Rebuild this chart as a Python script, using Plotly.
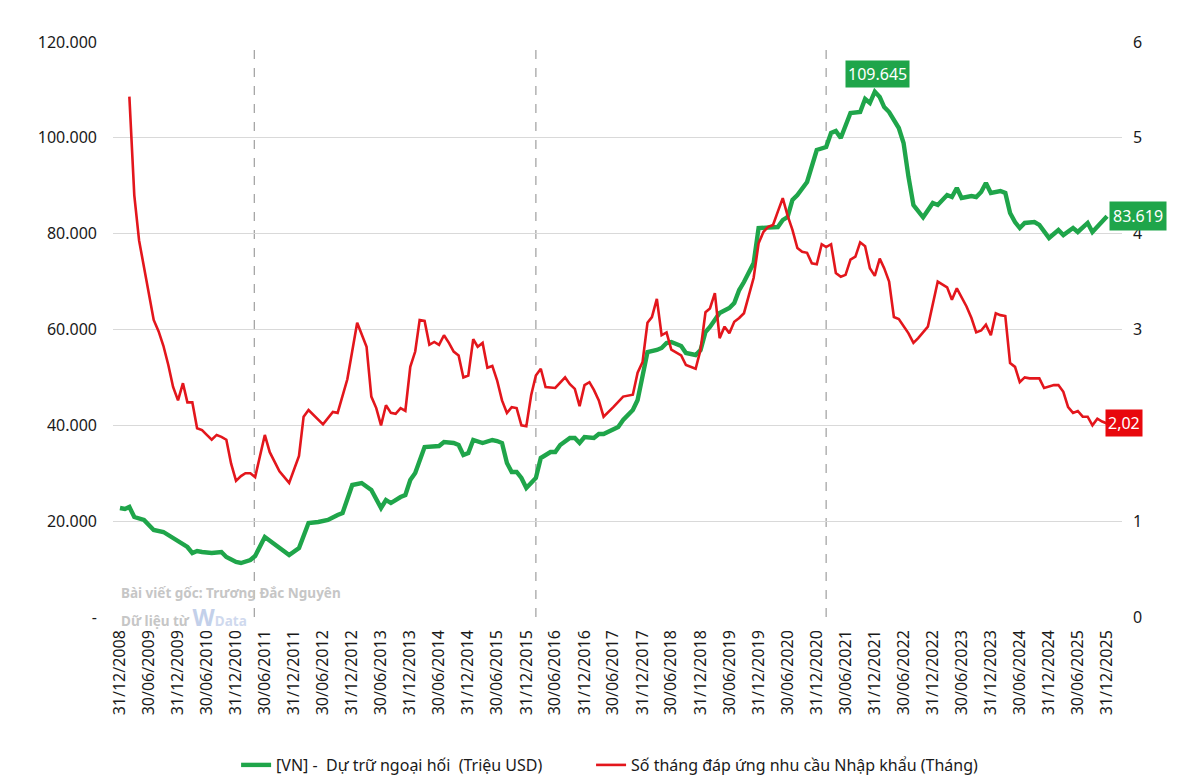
import pandas as pd
import plotly.graph_objects as go

# ---------------- data ----------------
GREEN_NAME = "[VN] -  Dự trữ ngoại hối  (Triệu USD)"
RED_NAME = "Số tháng đáp ứng nhu cầu Nhập khẩu (Tháng)"

GREEN_MONTHS = [
    "2008-12", "2009-01", "2009-02", "2009-03", "2009-05", "2009-07", "2009-09", "2009-11",
    "2010-01", "2010-02", "2010-03", "2010-04", "2010-05", "2010-07", "2010-09", "2010-10",
    "2010-12", "2011-01", "2011-03", "2011-04", "2011-06", "2011-08", "2011-11", "2012-01",
    "2012-03", "2012-05", "2012-07", "2012-09", "2012-10", "2012-12", "2013-02", "2013-04",
    "2013-06", "2013-07", "2013-08", "2013-10", "2013-11", "2013-12", "2014-01", "2014-03",
    "2014-04", "2014-06", "2014-07", "2014-09", "2014-10", "2014-11", "2014-12", "2015-01",
    "2015-03", "2015-05", "2015-06", "2015-07", "2015-08", "2015-09", "2015-10", "2015-11",
    "2015-12", "2016-02", "2016-03", "2016-05", "2016-06", "2016-07", "2016-09", "2016-10",
    "2016-11", "2016-12", "2017-02", "2017-03", "2017-04", "2017-06", "2017-07", "2017-08",
    "2017-10", "2017-11", "2017-12", "2018-01", "2018-03", "2018-04", "2018-05", "2018-06",
    "2018-08", "2018-09", "2018-11", "2018-12", "2019-01", "2019-02", "2019-04", "2019-06",
    "2019-07", "2019-08", "2019-09", "2019-11", "2019-12", "2020-01", "2020-03", "2020-04",
    "2020-05", "2020-06", "2020-07", "2020-08", "2020-10", "2020-11", "2020-12", "2021-02",
    "2021-03", "2021-04", "2021-05", "2021-07", "2021-09", "2021-10", "2021-11", "2021-12",
    "2022-01", "2022-02", "2022-03", "2022-05", "2022-06", "2022-07", "2022-08", "2022-10",
    "2022-12", "2023-01", "2023-03", "2023-04", "2023-05", "2023-06", "2023-08", "2023-09",
    "2023-10", "2023-11", "2023-12", "2024-02", "2024-03", "2024-04", "2024-05", "2024-06",
    "2024-07", "2024-09", "2024-10", "2024-12", "2025-02", "2025-03", "2025-05", "2025-06",
    "2025-08", "2025-09", "2025-12",
]
GREEN_VALUES = [
    22750, 22540, 22960, 20870, 20240, 18160, 17740, 16490,
    15030, 14610, 13360, 13770, 13570, 13360, 13570, 12520,
    11480, 11270, 11900, 12730, 16700, 15230, 12940, 14400,
    19620, 19830, 20240, 21290, 21700, 27550, 27960, 26500,
    22750, 24420, 23790, 25040, 25460, 28590, 30050, 35480,
    35480, 35690, 36520, 36310, 35900, 33810, 34230, 36940,
    36310, 36940, 36730, 36310, 32140, 30260, 30260, 29010,
    26920, 29010, 33180, 34430, 34430, 35900, 37360, 37360,
    36310, 37560, 37360, 38190, 38190, 39030, 39650, 41110,
    43200, 45290, 50090, 55300, 55720, 56140, 57180, 57390,
    56560, 55100, 54680, 55720, 59480, 60520, 63440, 64490,
    65530, 68240, 69910, 73880, 81180, 81180, 81390, 81390,
    82850, 83480, 87030, 88070, 90780, 94330, 97460, 98090,
    101010, 101430, 99970, 105180, 105390, 108100, 107270, 109645,
    108520, 106430, 105390, 102050, 98920, 91830, 85980, 83420,
    86400, 85980, 88070, 87650, 89530, 87440, 87860, 87650,
    88700, 90570, 88490, 88900, 88490, 84310, 82430, 81180,
    82230, 82430, 81810, 79090, 80760, 79720, 81180, 80350,
    82230, 80350, 83619,
]

RED_MONTHS = [
    "2009-02", "2009-03", "2009-04", "2009-05", "2009-06", "2009-07", "2009-08", "2009-09",
    "2009-10", "2009-11", "2009-12", "2010-01", "2010-02", "2010-03", "2010-04", "2010-05",
    "2010-06", "2010-07", "2010-08", "2010-09", "2010-10", "2010-11", "2010-12", "2011-01",
    "2011-02", "2011-03", "2011-04", "2011-06", "2011-07", "2011-09", "2011-11", "2012-01",
    "2012-02", "2012-03", "2012-06", "2012-08", "2012-09", "2012-11", "2013-01", "2013-03",
    "2013-04", "2013-05", "2013-06", "2013-07", "2013-08", "2013-09", "2013-10", "2013-11",
    "2013-12", "2014-01", "2014-02", "2014-03", "2014-04", "2014-05", "2014-06", "2014-07",
    "2014-08", "2014-09", "2014-10", "2014-11", "2014-12", "2015-01", "2015-02", "2015-03",
    "2015-04", "2015-05", "2015-06", "2015-07", "2015-08", "2015-09", "2015-10", "2015-11",
    "2015-12", "2016-01", "2016-02", "2016-03", "2016-04", "2016-06", "2016-08", "2016-09",
    "2016-10", "2016-11", "2016-12", "2017-01", "2017-02", "2017-03", "2017-04", "2017-05",
    "2017-06", "2017-08", "2017-10", "2017-11", "2017-12", "2018-01", "2018-02", "2018-03",
    "2018-04", "2018-05", "2018-06", "2018-08", "2018-09", "2018-11", "2018-12", "2019-01",
    "2019-02", "2019-03", "2019-04", "2019-05", "2019-06", "2019-07", "2019-08", "2019-09",
    "2019-10", "2019-11", "2019-12", "2020-01", "2020-02", "2020-03", "2020-04", "2020-05",
    "2020-06", "2020-07", "2020-08", "2020-09", "2020-10", "2020-11", "2020-12", "2021-01",
    "2021-02", "2021-03", "2021-04", "2021-05", "2021-06", "2021-07", "2021-08", "2021-09",
    "2021-10", "2021-11", "2021-12", "2022-01", "2022-02", "2022-03", "2022-04", "2022-05",
    "2022-07", "2022-08", "2022-09", "2022-11", "2023-01", "2023-02", "2023-03", "2023-04",
    "2023-05", "2023-07", "2023-08", "2023-09", "2023-10", "2023-11", "2023-12", "2024-01",
    "2024-02", "2024-03", "2024-04", "2024-05", "2024-06", "2024-07", "2024-08", "2024-10",
    "2024-11", "2025-01", "2025-02", "2025-03", "2025-04", "2025-05", "2025-06", "2025-07",
    "2025-08", "2025-09", "2025-10", "2025-11", "2025-12",
]
RED_VALUES = [
    5.43, 4.40, 3.93, 3.65, 3.35, 3.10, 2.98, 2.83,
    2.63, 2.40, 2.26, 2.44, 2.24, 2.24, 1.97, 1.95,
    1.90, 1.85, 1.90, 1.88, 1.85, 1.60, 1.42, 1.47,
    1.50, 1.50, 1.46, 1.90, 1.72, 1.52, 1.40, 1.68,
    2.09, 2.16, 2.01, 2.14, 2.13, 2.48, 3.07, 2.82,
    2.30, 2.18, 2.00, 2.21, 2.13, 2.12, 2.18, 2.15,
    2.61, 2.77, 3.10, 3.09, 2.84, 2.87, 2.84, 2.94,
    2.86, 2.77, 2.73, 2.50, 2.52, 2.90, 2.82, 2.86,
    2.60, 2.62, 2.47, 2.26, 2.13, 2.19, 2.18, 2.00,
    1.99, 2.32, 2.52, 2.59, 2.40, 2.39, 2.50, 2.43,
    2.38, 2.20, 2.42, 2.45, 2.37, 2.26, 2.09, 2.14,
    2.19, 2.30, 2.32, 2.55, 2.66, 3.07, 3.13, 3.32,
    2.94, 2.97, 2.79, 2.73, 2.63, 2.59, 2.79, 3.18,
    3.22, 3.38, 2.91, 3.03, 2.96, 3.08, 3.12, 3.17,
    3.36, 3.54, 3.90, 4.02, 4.07, 4.09, 4.23, 4.37,
    4.19, 4.04, 3.85, 3.81, 3.80, 3.69, 3.68, 3.89,
    3.86, 3.89, 3.59, 3.55, 3.57, 3.73, 3.76, 3.91,
    3.87, 3.64, 3.56, 3.74, 3.64, 3.50, 3.13, 3.11,
    2.96, 2.86, 2.91, 3.03, 3.50, 3.47, 3.44, 3.31,
    3.43, 3.24, 3.12, 2.97, 2.99, 3.05, 2.94, 3.17,
    3.15, 3.14, 2.65, 2.61, 2.45, 2.50, 2.49, 2.49,
    2.39, 2.42, 2.42, 2.35, 2.19, 2.13, 2.15, 2.09,
    2.09, 2.00, 2.07, 2.04, 2.02,
]

TICK_LABELS = [
    "31/12/2008", "30/06/2009", "31/12/2009", "30/06/2010", "31/12/2010", "30/06/2011",
    "31/12/2011", "30/06/2012", "31/12/2012", "30/06/2013", "31/12/2013", "30/06/2014",
    "31/12/2014", "30/06/2015", "31/12/2015", "30/06/2016", "31/12/2016", "30/06/2017",
    "31/12/2017", "30/06/2018", "31/12/2018", "30/06/2019", "31/12/2019", "30/06/2020",
    "31/12/2020", "30/06/2021", "31/12/2021", "30/06/2022", "31/12/2022", "30/06/2023",
    "31/12/2023", "30/06/2024", "31/12/2024", "30/06/2025", "31/12/2025",
]
LEFT_TICKS = [0, 20000, 40000, 60000, 80000, 100000, 120000]
LEFT_TICK_TEXT = ["-", "20.000", "40.000", "60.000", "80.000", "100.000", "120.000"]
RIGHT_TICKS = [0, 1, 2, 3, 4, 5, 6]
EVENT_DATES = ["2011-04-25", "2016-02-29", "2021-02-28"]

PEAK_LABEL = "109.645"
GREEN_END_LABEL = "83.619"
RED_END_LABEL = "2,02"

# ---------------- styling ----------------
GREEN = "#1fa54a"
RED = "#e3161c"
FONT = "Noto Sans"


def month_end(months):
    return list(pd.to_datetime(months) + pd.offsets.MonthEnd(0))


gx = month_end(GREEN_MONTHS)
rx = month_end(RED_MONTHS)
tickvals = list(pd.to_datetime(TICK_LABELS, format="%d/%m/%Y"))

fig = go.Figure()
fig.add_trace(go.Scatter(x=gx, y=GREEN_VALUES, mode="lines", name=GREEN_NAME,
                         line=dict(color=GREEN, width=4.4), yaxis="y", legend="legend"))
fig.add_trace(go.Scatter(x=rx, y=RED_VALUES, mode="lines", name=RED_NAME,
                         line=dict(color=RED, width=2.6), yaxis="y2", legend="legend2"))

for d in EVENT_DATES:
    fig.add_shape(type="line", xref="x", yref="paper", x0=d, x1=d, y0=0, y1=0.995,
                  line=dict(color="#a6a6a6", width=1.3, dash="dash"), layer="below")

peak_i = GREEN_VALUES.index(max(GREEN_VALUES))
fig.add_annotation(x=gx[peak_i], y=GREEN_VALUES[peak_i], yref="y", text=PEAK_LABEL,
                   showarrow=False, yanchor="bottom", yshift=4, xshift=3, bgcolor=GREEN,
                   borderpad=2, font=dict(family=FONT, size=16, color="white"))
fig.add_annotation(x=gx[-1], y=GREEN_VALUES[-1], yref="y", text=GREEN_END_LABEL,
                   showarrow=False, xanchor="left", xshift=2, bgcolor=GREEN,
                   borderpad=3, font=dict(family=FONT, size=16, color="white"))
fig.add_annotation(x=rx[-1], y=RED_VALUES[-1], yref="y2", text=RED_END_LABEL,
                   showarrow=False, xanchor="left", xshift=-2, bgcolor="#e8080d",
                   borderpad=2, font=dict(family=FONT, size=16, color="white"))

# watermark
fig.add_annotation(xref="paper", yref="paper", x=0.006, y=0.042, xanchor="left",
                   yanchor="middle", showarrow=False,
                   text="<b>Bài viết gốc: Trương Đắc Nguyên</b>",
                   font=dict(family=FONT, size=13.5, color="#c6c6c6"))
fig.add_annotation(xref="paper", yref="paper", x=0.006, y=0.0, xanchor="left",
                   yanchor="middle", showarrow=False,
                   text="<b>Dữ liệu từ </b><span style='font-size:23px;color:#c3d0ea'><b>W</b></span><span style='color:#cfd9ee'><b>Data</b></span>",
                   font=dict(family=FONT, size=13.5, color="#c6c6c6"))

legend_style = dict(orientation="h", xanchor="left", y=-0.2574, yanchor="middle",
                    font=dict(family=FONT, size=16, color="#1a1a1a"),
                    itemwidth=30, bgcolor="rgba(0,0,0,0)")

# page body has an 8px margin: figure is sized so that it fills the 1200x783 window
fig.update_layout(
    width=1184, height=767,
    margin=dict(l=105, r=70, t=34, b=158, autoexpand=False),
    paper_bgcolor="white", plot_bgcolor="white",
    font=dict(family=FONT, size=16, color="#1a1a1a"),
    showlegend=True,
    legend=dict(x=0.122, **legend_style),
    legend2=dict(x=0.4738, **legend_style),
    xaxis=dict(type="date", range=["2008-11-17", "2026-04-04"],
               tickmode="array", tickvals=tickvals, ticktext=TICK_LABELS,
               tickangle=-90, showgrid=False, zeroline=False, showline=False,
               ticks="", ticklabelstandoff=9,
               tickfont=dict(family=FONT, size=16, color="#1a1a1a")),
    yaxis=dict(range=[0, 120000], tickmode="array", tickvals=LEFT_TICKS,
               ticktext=LEFT_TICK_TEXT, showgrid=True, gridcolor="#d9d9d9",
               gridwidth=1, zeroline=False, showline=False, ticks="",
               ticklabelstandoff=15,
               tickfont=dict(family=FONT, size=16, color="#1a1a1a")),
    yaxis2=dict(range=[0, 6], overlaying="y", side="right", tickmode="array",
                tickvals=RIGHT_TICKS, showgrid=False, zeroline=False, showline=False,
                ticks="", ticklabelstandoff=10,
                tickfont=dict(family=FONT, size=16, color="#1a1a1a")),
)

fig.write_html("out.html")
